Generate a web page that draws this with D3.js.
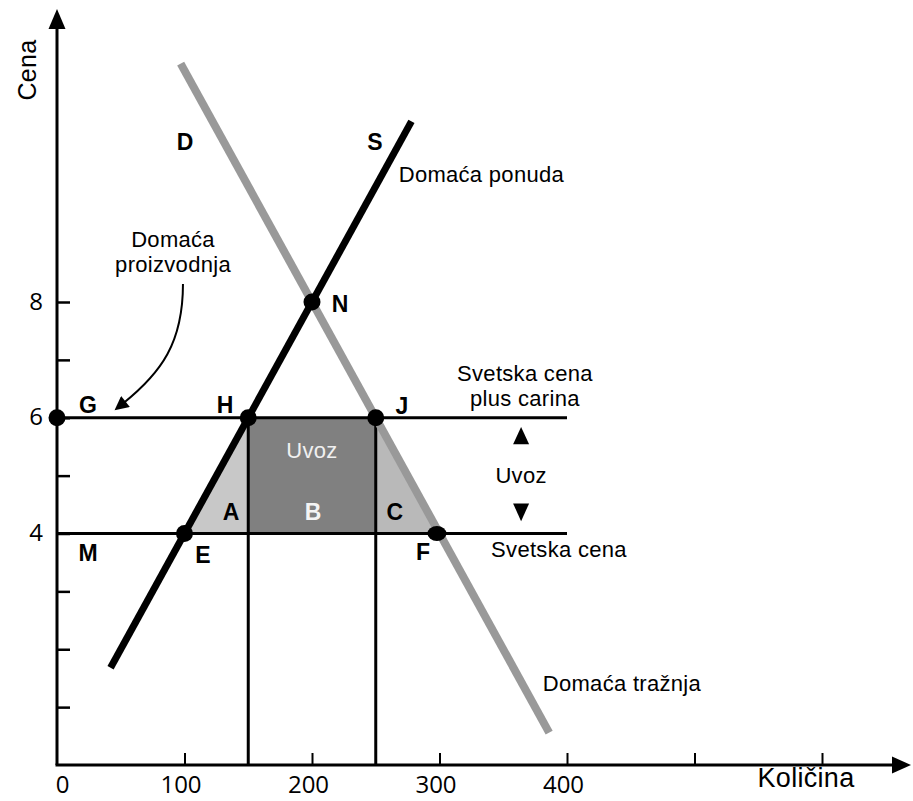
<!DOCTYPE html>
<html>
<head>
<meta charset="utf-8">
<script src="https://cdn.jsdelivr.net/npm/d3@7"></script>
<style>
  body { margin: 0; background: #fff; }
  svg { display: block; }
  .lbl { font-family: "Liberation Sans", Arial, sans-serif; font-size: 22px; letter-spacing: 0.3px; fill: #000; }
  .let { font-family: "Liberation Sans", Arial, sans-serif; font-size: 23px; font-weight: bold; fill: #000; }
  .tick text { font-family: "Open Sans", sans-serif; font-size: 24px; }
</style>
</head>
<body>
<script>
// data
const xTicks = [0, 100, 200, 300, 400, 500, 600]
const xTickLabels = ["0", "100", "200", "300", "400", "", ""]
const yTicks = [1, 2, 3, 4, 5, 6, 7, 8]
const yTickLabels = ["", "", "", "4", "", "6", "", "8"]

const supplyQ = [42, 278]
const supplyP = [1.68, 11.12]
const demandQ = [97, 386]
const demandP = [12.12, 0.56]

const worldPrice = 4
const tariffPrice = 6
const priceLineEnd = 400
const importQ = [150, 250]   // domestic supply / demand with tariff

const areaA = [[100, 4], [150, 6], [150, 4]]
const areaB = [[150, 4], [150, 6], [250, 6], [250, 4]]
const areaC = [[250, 6], [250, 4], [300, 4]]

const dotNames = ["G", "H", "J", "E", "F", "N"]
const dotQ = [0, 150, 250, 100, 298, 200]
const dotP = [6, 6, 6, 4, 4, 8]

const svgWidth = 913
const svgHeight = 801

var svg = d3.select("body").append("svg")
  .attr("width", svgWidth)
  .attr("height", svgHeight)

var x = d3.scaleLinear().domain([0, 600]).range([57, 822])
var y = d3.scaleLinear().domain([0, 8]).range([765, 302])

// shaded areas
var line = d3.line().x(function(d) { return x(d[0]) }).y(function(d) { return y(d[1]) })
svg.append("path").attr("d", line(areaA) + "Z").attr("fill", "#c8c8c8")
svg.append("path").attr("d", line(areaB) + "Z").attr("fill", "#808080")
svg.append("path").attr("d", line(areaC) + "Z").attr("fill", "#b9b9b9")

// axes
var xAxis = d3.axisBottom(x).tickValues(xTicks)
  .tickFormat(function(d, i) { return xTickLabels[i] })
  .tickSizeInner(-12).tickSizeOuter(0).tickPadding(11)
var gx = svg.append("g").attr("transform", "translate(0," + y(0) + ")").call(xAxis)
gx.select(".domain").remove()
gx.selectAll(".tick line").attr("stroke-width", 2)
gx.selectAll(".tick text").attr("dx", function(d) { return d === 0 ? 5 : -4 })
gx.selectAll(".tick").filter(function(d) { return d === 0 }).select("line").remove()

var yAxis = d3.axisLeft(y).tickValues(yTicks)
  .tickFormat(function(d, i) { return yTickLabels[i] })
  .tickSizeInner(-13).tickSizeOuter(0).tickPadding(14)
var gy = svg.append("g").attr("transform", "translate(" + x(0) + ",0)").call(yAxis)
gy.select(".domain").remove()
gy.selectAll(".tick line").attr("stroke-width", 2.5)
gy.selectAll(".tick text").attr("dy", "0.3em")

// axis lines with arrow heads
svg.append("line").attr("x1", x(0)).attr("y1", y(0)).attr("x2", x(0)).attr("y2", 26)
  .attr("stroke", "#000").attr("stroke-width", 3)
svg.append("path").attr("d", "M" + x(0) + ",9 l-8.5,20 h17 Z").attr("fill", "#000")
svg.append("line").attr("x1", x(0) - 1.5).attr("y1", y(0)).attr("x2", 894).attr("y2", y(0))
  .attr("stroke", "#000").attr("stroke-width", 3)
svg.append("path").attr("d", "M911," + y(0) + " l-19,-8.5 v17 Z").attr("fill", "#000")

// price lines
svg.append("line").attr("x1", x(0)).attr("x2", x(priceLineEnd))
  .attr("y1", y(tariffPrice)).attr("y2", y(tariffPrice))
  .attr("stroke", "#000").attr("stroke-width", 3)
svg.append("line").attr("x1", x(0)).attr("x2", x(priceLineEnd))
  .attr("y1", y(worldPrice)).attr("y2", y(worldPrice))
  .attr("stroke", "#000").attr("stroke-width", 3)

// verticals at domestic supply & demand quantities
svg.selectAll(".vline").data(importQ).enter().append("line")
  .attr("class", "vline")
  .attr("x1", function(d) { return x(d) }).attr("x2", function(d) { return x(d) })
  .attr("y1", y(tariffPrice)).attr("y2", y(0))
  .attr("stroke", "#000").attr("stroke-width", 3)

// demand & supply
svg.append("line")
  .attr("x1", x(demandQ[0])).attr("y1", y(demandP[0]))
  .attr("x2", x(demandQ[1])).attr("y2", y(demandP[1]))
  .attr("stroke", "#999").attr("stroke-width", 8)
svg.append("line")
  .attr("x1", x(supplyQ[0])).attr("y1", y(supplyP[0]))
  .attr("x2", x(supplyQ[1])).attr("y2", y(supplyP[1]))
  .attr("stroke", "#000").attr("stroke-width", 7)

// dots
svg.selectAll(".dot").data(dotNames).enter().append("ellipse")
  .attr("class", "dot")
  .attr("cx", function(d, i) { return x(dotQ[i]) })
  .attr("cy", function(d, i) { return y(dotP[i]) })
  .attr("rx", function(d) { return d === "F" ? 9.5 : 8.5 })
  .attr("ry", function(d) { return d === "F" ? 7.5 : 8.5 })
  .attr("fill", "#000")

// letters
var letters = [
  ["D", 100.4, 10.77], ["S", 249.4, 10.77], ["N", 222, 7.97],
  ["G", 24.3, 6.23], ["H", 131.8, 6.23], ["J", 270.6, 6.2],
  ["A", 136.5, 4.38], ["C", 265, 4.38],
  ["M", 24.3, 3.67], ["E", 114.5, 3.64], ["F", 287, 3.69]
]
svg.selectAll(".let").data(letters).enter().append("text")
  .attr("class", "let")
  .attr("x", function(d) { return x(d[1]) })
  .attr("y", function(d) { return y(d[2]) })
  .attr("dy", "0.36em")
  .attr("text-anchor", "middle")
  .text(function(d) { return d[0] })

svg.append("text").attr("class", "let").attr("x", x(200.8)).attr("y", y(4.38))
  .attr("dy", "0.36em").attr("text-anchor", "middle").style("fill", "#f4f4f4").text("B")
svg.append("text").attr("class", "lbl").attr("x", x(200)).attr("y", y(5.45))
  .attr("dy", "0.36em").attr("text-anchor", "middle").style("fill", "#f0f0f0").text("Uvoz")

// text labels: text, q, p (baseline), anchor
var labels = [
  ["Domaća ponuda", 268, 10.08, "start"],
  ["Domaća", 91, 8.95, "middle"],
  ["proizvodnja", 91, 8.52, "middle"],
  ["Svetska cena", 367, 6.63, "middle"],
  ["plus carina", 367, 6.2, "middle"],
  ["Uvoz", 364, 4.88, "middle"],
  ["Svetska cena", 393.7, 3.6, "middle"],
  ["Domaća tražnja", 381, 1.28, "start"]
]
svg.selectAll(".lbl2").data(labels).enter().append("text")
  .attr("class", "lbl")
  .attr("x", function(d) { return x(d[1]) })
  .attr("y", function(d) { return y(d[2]) })
  .attr("text-anchor", function(d) { return d[3] })
  .text(function(d) { return d[0] })

// small import arrows
var qa = 364
svg.append("path")
  .attr("d", "M" + x(qa) + "," + y(5.84) + " L" + (x(qa) - 8) + "," + y(5.54) + " L" + (x(qa) + 8) + "," + y(5.54) + " Z")
  .attr("fill", "#000")
svg.append("path")
  .attr("d", "M" + x(qa) + "," + y(4.21) + " L" + (x(qa) - 8) + "," + y(4.52) + " L" + (x(qa) + 8) + "," + y(4.52) + " Z")
  .attr("fill", "#000")

// curved arrow to domestic production
svg.append("defs").append("marker")
  .attr("id", "head").attr("viewBox", "0 0 10 10")
  .attr("refX", 2).attr("refY", 5)
  .attr("markerWidth", 9).attr("markerHeight", 7)
  .attr("markerUnits", "strokeWidth")
  .attr("orient", "auto")
  .append("path").attr("d", "M0,0 L10,5 L0,10 Z").attr("fill", "#000")

var curve = [[98.8, 8.31], [98.8, 7.3], [82, 6.78], [52, 6.25]]
svg.append("path")
  .attr("d", "M" + x(curve[0][0]) + "," + y(curve[0][1]) +
    " C" + x(curve[1][0]) + "," + y(curve[1][1]) + " " +
    x(curve[2][0]) + "," + y(curve[2][1]) + " " +
    x(curve[3][0]) + "," + y(curve[3][1]))
  .attr("fill", "none").attr("stroke", "#000").attr("stroke-width", 2)
  .attr("marker-end", "url(#head)")

// axis titles
svg.append("text").attr("class", "lbl")
  .attr("transform", "translate(36,70) rotate(-90)")
  .attr("text-anchor", "middle")
  .style("font-size", "25px")
  .text("Cena")
svg.append("text").attr("class", "lbl")
  .attr("x", 806).attr("y", y(0) + 22)
  .attr("text-anchor", "middle")
  .style("font-size", "27px")
  .text("Količina")
</script>
</body>
</html>
